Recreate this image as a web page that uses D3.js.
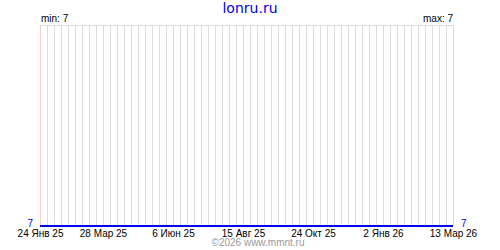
<!DOCTYPE html>
<html>
<head>
<meta charset="utf-8">
<script src="https://cdn.jsdelivr.net/npm/d3@7"></script>
<style>
  body { margin: 0; background: #fff; }
  svg text { font-family: "Liberation Sans", Arial, sans-serif; }
</style>
</head>
<body>
<svg id="chart" width="500" height="250"></svg>
<script>
// data: the value stays at 7 the whole period
const pointDates = ['2025-01-24', '2025-03-28', '2025-06-06', '2025-08-15', '2025-10-24', '2026-01-02', '2026-03-13'];
const pointValues = [7, 7, 7, 7, 7, 7, 7];
const tickDates = ['2025-01-24', '2025-03-28', '2025-06-06', '2025-08-15', '2025-10-24', '2026-01-02', '2026-03-13'];
const tickLabels = ['24 Янв 25', '28 Мар 25', '6 Июн 25', '15 Авг 25', '24 Окт 25', '2 Янв 26', '13 Мар 26'];
const title = 'lonru.ru';
const footer = '©2026 www.mmnt.ru';

const parse = d3.utcParse('%Y-%m-%d');
const data = pointDates.map((d, i) => ({ date: parse(d), value: pointValues[i] }));
const ticks = tickDates.map(parse);

const plotLeft = 40, plotRight = 453, plotTop = 25, plotBottom = 225;

const svg = d3.select('#chart');

const x = d3.scaleUtc()
    .domain([parse(pointDates[0]), parse(pointDates[pointDates.length - 1])])
    .range([plotLeft, plotRight]);

const minV = d3.min(pointValues), maxV = d3.max(pointValues);
// flat series sits on the bottom edge
const y = d3.scaleLinear()
    .domain([minV, maxV === minV ? minV + 1 : maxV])
    .range([plotBottom + 1, plotTop]);

// weekly grid
const weeks = d3.utcDay.range(x.domain()[0], d3.utcDay.offset(x.domain()[1], 1), 7);
const tickSet = new Set(ticks.map(t => +t));

svg.append('line')
    .attr('x1', plotLeft).attr('x2', plotRight + 1)
    .attr('y1', plotTop + 0.5).attr('y2', plotTop + 0.5)
    .style('stroke', '#dddddd');

svg.append('g')
    .selectAll('line')
    .data(weeks)
    .enter().append('line')
    .attr('x1', d => Math.round(x(d)) + 0.5)
    .attr('x2', d => Math.round(x(d)) + 0.5)
    .attr('y1', plotTop)
    .attr('y2', plotBottom)
    .style('stroke', d => tickSet.has(+d) ? '#ffcccc' : '#dddddd');

// axis labels
const axis = d3.axisBottom(x)
    .tickValues(ticks)
    .tickFormat((d, i) => tickLabels[i])
    .tickSize(0)
    .tickPadding(0);

const ax = svg.append('g')
    .attr('transform', `translate(0, ${plotBottom})`)
    .call(axis);
ax.select('.domain').remove();
ax.selectAll('text')
    .attr('y', 12)
    .attr('dy', 0)
    .style('font-family', '"Liberation Sans", Arial, sans-serif')
    .style('font-size', '10px')
    .style('fill', '#000');

// series line
const line = d3.line()
    .x(d => x(d.date))
    .y(d => y(d.value));

svg.append('path')
    .datum(data)
    .attr('d', line)
    .style('fill', 'none')
    .style('stroke', '#0000ee')
    .style('stroke-width', 2);

// end values
svg.append('text')
    .attr('x', plotLeft - 7).attr('y', 227)
    .attr('text-anchor', 'end')
    .style('font-size', '10px')
    .style('fill', '#0000ee')
    .text(pointValues[0]);

svg.append('text')
    .attr('x', plotRight + 8).attr('y', 227)
    .style('font-size', '10px')
    .style('fill', '#0000ee')
    .text(pointValues[pointValues.length - 1]);

// min / max
svg.append('text')
    .attr('x', plotLeft + 1).attr('y', 22)
    .style('font-size', '10px')
    .style('fill', '#000')
    .text('min: ' + minV);

svg.append('text')
    .attr('x', plotRight).attr('y', 22)
    .attr('text-anchor', 'end')
    .style('font-size', '10px')
    .style('fill', '#000')
    .text('max: ' + maxV);

// title and footer
svg.append('text')
    .attr('x', 250).attr('y', 13)
    .attr('text-anchor', 'middle')
    .style('font-family', '"DejaVu Sans", sans-serif')
    .style('font-size', '14px')
    .style('fill', '#0000ee')
    .text(title);

svg.append('text')
    .attr('x', 258).attr('y', 246)
    .attr('text-anchor', 'middle')
    .style('font-size', '10px')
    .style('fill', '#999999')
    .text(footer);
</script>
</body>
</html>
